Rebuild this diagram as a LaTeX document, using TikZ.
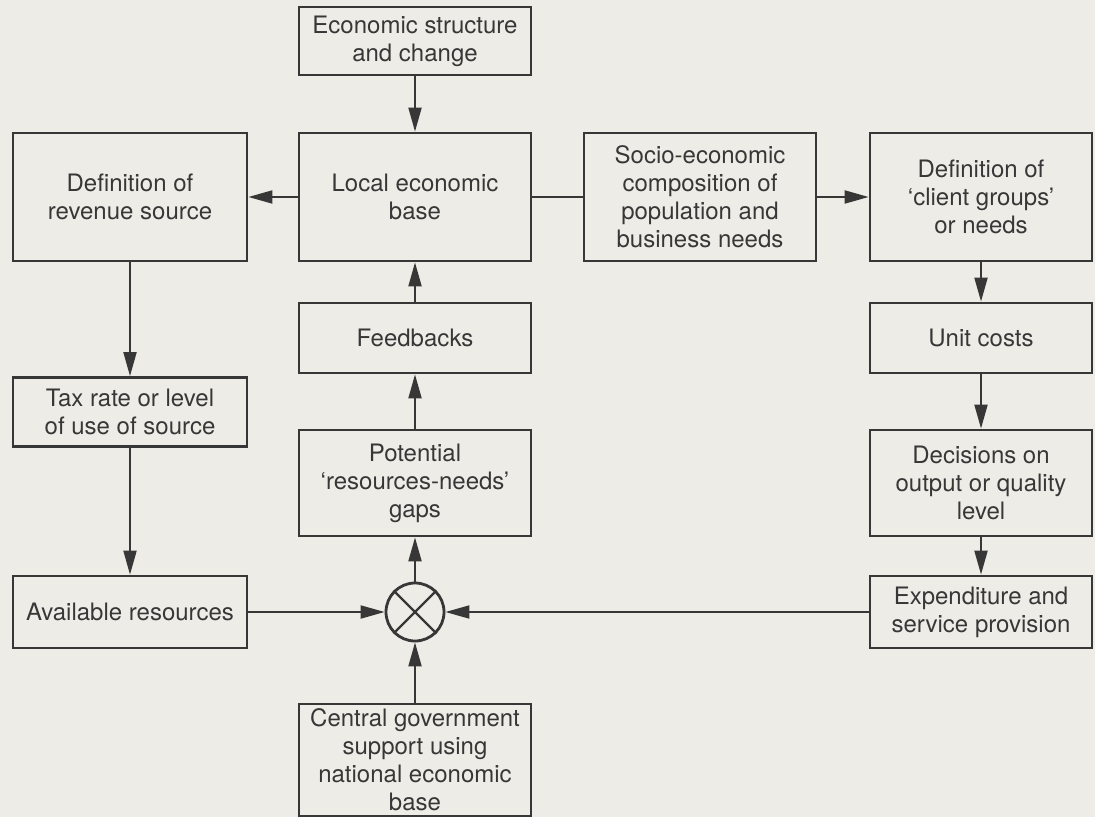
\documentclass[tikz,border=0pt]{standalone}
\usepackage{fontspec}
\setmainfont{TeX Gyre Heros}
\usetikzlibrary{positioning,arrows.meta}
\definecolor{paper}{RGB}{238,236,230}
\definecolor{ink}{RGB}{55,55,55}

\begin{document}
\begin{tikzpicture}[
  x=0.5pt, y=-0.5pt,
  box/.style={
    draw=ink, text=ink, align=center, line width=1.4pt,
    font=\fontsize{12}{14}\selectfont, inner sep=2pt
  },
  link/.style={draw=ink, line width=1pt, -{Triangle[length=12pt,width=6.5pt]}}
]
\fill[paper] (0,0) rectangle (1095,817);
\useasboundingbox (0,0) rectangle (1095,817);

% top and second row
\node[box, minimum width=116pt, minimum height=34pt] (econ) at (415,41) {Economic structure\\and change};
\node[box, minimum width=117pt, minimum height=64pt] (revdef) at (130,197) {Definition of\\revenue source};
\node[box, minimum width=116pt, minimum height=64pt] (localbase) at (415,197) {Local economic\\base};
\node[box, minimum width=116pt, minimum height=64pt] (socio) at (700,197) {Socio-economic\\composition of\\population and\\business needs};
\node[box, minimum width=111pt, minimum height=64pt] (clients) at (981,197) {Definition of\\`client groups'\\or needs};

% middle
\node[box, minimum width=116pt, minimum height=35pt] (feedback) at (415,338) {Feedbacks};
\node[box, minimum width=111pt, minimum height=35pt] (unitcost) at (981,338) {Unit costs};
\node[box, minimum width=117pt, minimum height=34.5pt] (taxrate) at (130,412) {Tax rate or level\\of use of source};
\node[box, minimum width=116pt, minimum height=53pt] (gaps) at (415,483) {Potential\\`resources-needs'\\gaps};
\node[box, minimum width=111pt, minimum height=53pt] (decide) at (981,483) {Decisions on\\output or quality\\level};

% bottom
\node[box, minimum width=117pt, minimum height=36pt] (avail) at (130,612) {Available resources};
\node[box, minimum width=111pt, minimum height=36pt] (spend) at (981,612) {Expenditure and\\service provision};
\node[draw=ink, line width=1.4pt, circle, minimum size=29pt, inner sep=0pt] (cross) at (415,612) {};
\node[box, minimum width=116pt, minimum height=56pt, inner sep=0pt] (central) at (415,760) {Central government\\support using\\national economic\\base};

\draw[draw=ink, line width=1.2pt] (cross.north east) -- (cross.south west)
  (cross.north west) -- (cross.south east);

% connectors
\draw[link] (econ) -- (localbase);
\draw[link] (localbase) -- (revdef);
\draw[draw=ink, line width=1pt] (localbase) -- (socio);
\draw[link] (socio) -- (clients);
\draw[link] (revdef) -- (taxrate);
\draw[link] (taxrate) -- (avail);
\draw[link] (clients) -- (unitcost);
\draw[link] (unitcost) -- (decide);
\draw[link] (decide) -- (spend);
\draw[link] (avail) -- (cross);
\draw[link] (spend) -- (cross);
\draw[link] (central) -- (cross);
\draw[link] (cross) -- (gaps);
\draw[link] (gaps) -- (feedback);
\draw[link] (feedback) -- (localbase);
\end{tikzpicture}
\end{document}
